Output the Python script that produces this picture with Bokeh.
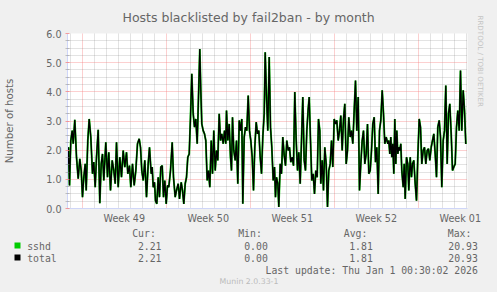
from bokeh.plotting import figure
from bokeh.layouts import column
from bokeh.models import (FixedTicker, Title, Range1d, PrintfTickFormatter, CustomJSTickFormatter)
from bokeh.embed import file_html
from bokeh.resources import INLINE
from bokeh.core.properties import value

# ---------------- data ----------------
# hours after the start of the 33-day window (one RRD sample = 2 h)
sample_hours = [
    0, 2, 4, 6.6, 9.4, 11.4, 14.6, 18, 21.4, 24.6, 27.4, 30, 32.6, 35.4, 37.4, 40.6, 43.4, 46.6, 50, 52.6,
    55.4, 58, 61.4, 64.6, 67.4, 70, 72.6, 76.6, 80, 82.6, 86, 89.4, 92.6, 95.4, 98, 101.4, 104.6, 108, 111.4, 114.6,
    118, 120.6, 124, 126.6, 130, 133.4, 136.6, 140, 143.4, 146, 148.6, 151.4, 154.6, 158,
    161.4, 164, 167.4, 169.4, 171.4, 174, 176, 178.6, 181.4, 184, 186.6, 189.4, 192, 194.6, 197.4, 200, 202.6, 206, 209.4, 212,
    215.4, 218, 221.4, 224, 227.4, 230, 232.6, 235.4, 238, 240.6, 243.4, 246, 248.6, 251.4, 254, 256.6, 259.4, 262, 264.6, 266.6,
    268.6, 271.4, 274, 276.6, 279.4, 282, 284.6, 287.4, 290, 292.6, 295.4, 298, 300.6, 303.4, 306, 308.6, 311.4, 314, 316.6,
    318, 320.6, 323.4, 326, 328, 330, 332.6, 335.4, 338, 340.6, 343.4, 346, 348.6, 350.6, 353.4, 356, 358.6, 361.4, 364, 366.6,
    369.4, 372, 374.6, 377.4, 380, 382.6, 385.4, 388, 390.6, 393.4, 395.4, 398, 400.6, 403.4, 406, 408.6, 411.4, 414, 416, 418,
    420.6, 422.6, 425.4, 428, 430.6, 433.4, 436, 438.6, 441.4, 444, 446.6, 449.4, 452, 454.6, 457.4, 460, 462.6, 465.4, 468, 470.6,
    473.4, 476, 478.6, 481.4,
    483.4, 486, 488.6, 491.4, 494, 496.6, 499.4, 502, 504.6, 506.6, 509.4, 512, 514.6, 517.4, 520, 522.6, 525.4, 528,
    530.6, 533.4, 536, 538.6, 541.4, 544, 546.6, 549.4, 552, 554.6, 557.4, 560, 562.6, 565.4, 568, 570.6, 573.4, 576, 578.6, 581.4,
    584, 586.6, 589.4, 592, 594.6, 597.4, 600, 602.6, 605.4, 608, 610.6, 613.4, 616, 618.6, 621.4, 624, 626.6, 629.4, 632, 634.6,
    637.4,
    640.6, 642.6, 644.6, 646.6, 648.6, 650.6, 652.6, 654.6, 656.6, 658.6, 660.6, 662.6, 664.6, 666.6, 668.6, 671.4, 673.4, 675.4, 678,
    680.6, 682.6, 685.4, 688, 690, 692.6, 695.4, 698, 700.6, 703.4, 706, 708.6, 711.4, 714, 716.6, 719.4, 722, 724.6, 727.4, 730,
    732.6, 735.4, 738, 740.6, 743.4, 746, 748.6, 751.4, 754, 756.6, 759.4, 762, 764.6, 767.4, 770, 772.6, 775.4, 778, 780.6, 783.4,
    786, 788.6, 791.4, 794, 796.6,
]

sshd_hosts = [
    1.53, 2.10, 0.79, 2.33, 2.67, 2.22, 3.04, 1.76, 1.02, 1.70, 1.30, 0.39, 1.07, 1.53, 0.62, 2.33, 3.07, 2.45, 1.19, 1.59,
    0.73, 1.76, 2.70, 0.18, 1.53, 1.87, 0.96, 2.27, 1.07, 1.93, 0.62, 1.65, 1.30, 0.85, 2.27, 0.73, 1.76, 1.07, 1.99, 1.42,
    1.93, 1.19, 1.47, 0.73, 1.53, 0.79, 1.30, 2.22, 2.39, 2.10, 1.30, 0.96, 1.65, 0.39,
    1.53, 2.10, 1.19, 1.42, 0.73, 0.90, 0.27, 0.16, 1.07, 0.39, 1.42, 1.47, 0.39, 0.96, 0.16, 0.79, 0.73, 1.30, 2.27, 1.07,
    0.39, 0.62, 0.85, 0.33, 0.90, 0.62, 0.16, 0.85, 1.07, 1.76, 1.87, 3.13, 4.62, 3.25, 2.79, 3.07, 2.22, 3.82, 5.47, 4.05,
    2.90, 2.67, 2.56, 2.33, 0.96, 1.30, 0.73, 2.33, 1.19, 2.67, 1.30, 1.99, 1.65, 3.25, 2.33, 2.56, 2.22, 2.67, 2.22,
    3.36, 2.33, 2.90, 1.76, 1.30, 3.13, 1.99, 1.65, 2.33, 0.85, 3.02, 2.67, 3.07, 0.16, 2.45, 2.79, 2.67, 3.87, 2.67, 2.33,
    1.76, 0.62, 2.10, 2.96, 2.56, 2.67, 1.76, 1.19, 2.45, 3.25, 5.36, 3.82, 2.67, 5.19, 2.79, 2.10, 0.96, 1.42, 0.39, 1.07,
    0.85, 0.05, 1.53, 1.19, 2.45, 1.82, 1.47, 2.33, 1.99, 2.10, 1.59, 1.76, 1.47, 3.99, 2.33, 1.30, 1.93, 0.85, 2.33, 3.82,
    1.65, 1.30, 2.67, 3.42,
    3.82, 2.33, 0.96, 1.19, 0.50, 1.30, 1.07, 3.07, 2.67, 0.85, 1.65, 0.62, 2.10, 1.53, 0.05, 1.30, 1.53, 2.33,
    1.42, 3.07, 2.90, 3.02, 2.33, 2.67, 3.19, 1.99, 3.07, 3.59, 1.53, 1.99, 3.13, 2.45, 2.67, 2.22, 3.36, 4.39, 2.67, 3.82,
    0.62, 1.53, 2.33, 2.67, 1.53, 1.87, 2.90, 1.19, 1.30, 1.99, 2.90, 3.13, 1.59, 2.10, 0.50, 2.67, 3.02, 4.05, 3.25, 2.22,
    2.45,
    2.22, 2.33, 1.87, 2.45, 1.76, 2.22, 1.19, 3.07, 1.53, 2.67, 1.87, 2.10, 1.99, 2.22, 1.30, 0.73, 1.53, 0.33, 1.76,
    1.53, 0.62, 1.76, 1.07, 1.53, 1.65, 0.85, 0.27, 1.76, 3.07, 2.79, 1.53, 1.99, 2.10, 1.53, 1.99, 2.05, 1.65, 2.10,
    2.33, 2.56, 1.87, 1.07, 2.79, 3.02, 2.45, 0.73, 2.33, 2.67, 4.22, 1.53, 3.25, 3.59, 2.56, 1.30, 1.42, 1.53, 2.79, 3.36,
    2.67, 4.73, 2.67, 4.05, 3.36, 2.21,
]
# "total" is the sum over all jails; only sshd exists, so it reads the same
total_hosts = list(sshd_hosts)

window_hours = 800
week_start_hours = [29.5, 197.5, 365.5, 533.5, 701.5]   # Sunday 00:00 boundaries
week_labels = ["Week 49", "Week 50", "Week 51", "Week 52", "Week 01"]
y_ticks = [0, 1, 2, 3, 4, 5, 6]

series_names = ["sshd", "total"]
series_colors = ["#00CC00", "#000000"]
stat_headers = ["Cur:", "Min:", "Avg:", "Max:"]
stat_values = {
    "sshd": ["2.21", "0.00", "1.81", "20.93"],
    "total": ["2.21", "0.00", "1.81", "20.93"],
}
title_text = "Hosts blacklisted by fail2ban - by month"
y_label_text = "Number of hosts"
last_update_text = "Last update: Thu Jan  1 00:30:02 2026"
munin_text = "Munin 2.0.33-1"
rrd_text = "RRDTOOL / TOBI OETIKER"

# ---------------- styling ----------------
FONT = "DejaVu Sans"
MONO = "DejaVu Sans Mono"
TXT = "#666666"
BG = "#F0F0F0"
AXIS = "#CFD6F8"
MGRID = "rgba(245,128,128,0.75)"
GRID = "rgba(128,128,128,0.45)"

W, H_MAIN, H_LEG = 497, 226, 66

# ================= main chart =================
p = figure(width=W, height=H_MAIN, x_range=Range1d(0, window_hours), y_range=Range1d(0, 6),
           output_backend="svg", toolbar_location=None,
           min_border_left=67, min_border_right=30, min_border_top=33, min_border_bottom=18)
p.frame_align = False
p.background_fill_color = "#FFFFFF"
p.border_fill_color = BG
p.outline_line_color = None

p.title = Title(text=title_text, align="left", offset=55, vertical_align="middle", text_font=FONT,
                text_font_size="12.5px", text_font_style="normal", text_color=TXT, standoff=15)

p.add_layout(Title(text=rrd_text, align="left", offset=-18, text_font=FONT,
                   text_font_size="7.1px", text_font_style="normal", text_color="#C4C4C4",
                   standoff=17), "right")

# grids
y_minor = [i * 0.25 for i in range(25) if i % 4 != 0]
p.ygrid.ticker = FixedTicker(ticks=y_ticks, minor_ticks=y_minor)
p.ygrid.grid_line_color = MGRID
p.ygrid.grid_line_dash = "1 1"
p.ygrid.minor_grid_line_color = GRID
p.ygrid.minor_grid_line_dash = "1 1"

first_day = week_start_hours[0] % 24
day_hours = [first_day + 24 * k for k in range(40) if first_day + 24 * k < window_hours]
day_minor = [d for d in day_hours if all(abs(d - w) > 1 for w in week_start_hours)]
p.xgrid.ticker = FixedTicker(ticks=week_start_hours, minor_ticks=day_minor)
p.xgrid.grid_line_color = MGRID
p.xgrid.grid_line_dash = "1 1"
p.xgrid.minor_grid_line_color = GRID
p.xgrid.minor_grid_line_dash = "1 1"

# y axis
p.yaxis.ticker = FixedTicker(ticks=y_ticks, minor_ticks=y_minor)
p.yaxis.formatter = PrintfTickFormatter(format="%.1f")
p.yaxis.axis_line_color = AXIS
p.yaxis.major_tick_line_color = MGRID
p.yaxis.minor_tick_line_color = GRID
p.yaxis.major_tick_in = 2
p.yaxis.major_tick_out = 2
p.yaxis.minor_tick_in = 2
p.yaxis.minor_tick_out = 2
p.yaxis.major_label_standoff = 4
p.yaxis.major_label_text_font = FONT
p.yaxis.major_label_text_font_size = "9.6px"
p.yaxis.major_label_text_color = TXT
p.yaxis.axis_label = y_label_text
p.yaxis.axis_label_text_font = FONT
p.yaxis.axis_label_text_font_size = "10.2px"
p.yaxis.axis_label_text_font_style = "normal"
p.yaxis.axis_label_text_color = TXT
p.yaxis.axis_label_standoff = 28

# x axis: labels centred in each week
p.xaxis.ticker = FixedTicker(ticks=[w + 84 for w in week_start_hours], minor_ticks=[])
p.xaxis.formatter = CustomJSTickFormatter(args=dict(labels=week_labels), code="return labels[index];")
p.xaxis.axis_line_color = AXIS
p.xaxis.major_tick_in = 0
p.xaxis.major_tick_out = 0
p.xaxis.minor_tick_line_color = None
p.xaxis.major_label_standoff = 4
p.xaxis.major_label_text_font = FONT
p.xaxis.major_label_text_font_size = "9.6px"
p.xaxis.major_label_text_color = TXT

# series
p.line(sample_hours, sshd_hosts, line_color=series_colors[0], line_width=1.9)
p.line(sample_hours, total_hosts, line_color=series_colors[1], line_width=1.35)

# ================= legend / footer strip =================
# its frame is the whole strip; coordinates are page pixels (y grows downward)
leg = figure(width=W, height=H_LEG, x_range=Range1d(0, W), y_range=Range1d(H_MAIN + H_LEG, H_MAIN),
             output_backend="svg", toolbar_location=None,
             min_border_left=0, min_border_right=0, min_border_top=0, min_border_bottom=0)
leg.frame_align = False
leg.axis.visible = False
leg.grid.visible = False
leg.outline_line_color = None
leg.background_fill_color = BG
leg.border_fill_color = BG

header_left = [131.7, 237.7, 343.3, 447.3]
value_right = [161, 267.3, 372.3, 477.3]
row_y = [245.5, 257.5]
MONO_SIZE = "9.8px"

leg.text(x=header_left, y=[233] * 4, text=stat_headers, text_font=value(MONO),
         text_font_size=MONO_SIZE, text_color=TXT, text_align="left", text_baseline="middle")
leg.quad(left=[14, 14], right=[20, 20], top=[y - 3.5 for y in row_y], bottom=[y + 2.5 for y in row_y],
         fill_color=series_colors, line_color=None)
leg.text(x=[26.7, 26.7], y=row_y, text=series_names, text_font=value(MONO),
         text_font_size=MONO_SIZE, text_color=TXT, text_align="left", text_baseline="middle")
for name, y in zip(series_names, row_y):
    leg.text(x=value_right, y=[y] * 4, text=stat_values[name], text_font=value(MONO),
             text_font_size=MONO_SIZE, text_color=TXT, text_align="right", text_baseline="middle")
leg.text(x=[483.3], y=[270], text=[last_update_text], text_font=value(MONO),
         text_font_size=MONO_SIZE, text_color=TXT, text_align="right", text_baseline="middle")
leg.text(x=[248.5], y=[281], text=[munin_text], text_font=value(FONT),
         text_font_size="7.8px", text_color="#BBBBBB", text_align="center", text_baseline="middle")

layout = column(p, leg, spacing=0, styles={"background-color": BG})
open("out.html", "w").write(file_html(layout, INLINE))
